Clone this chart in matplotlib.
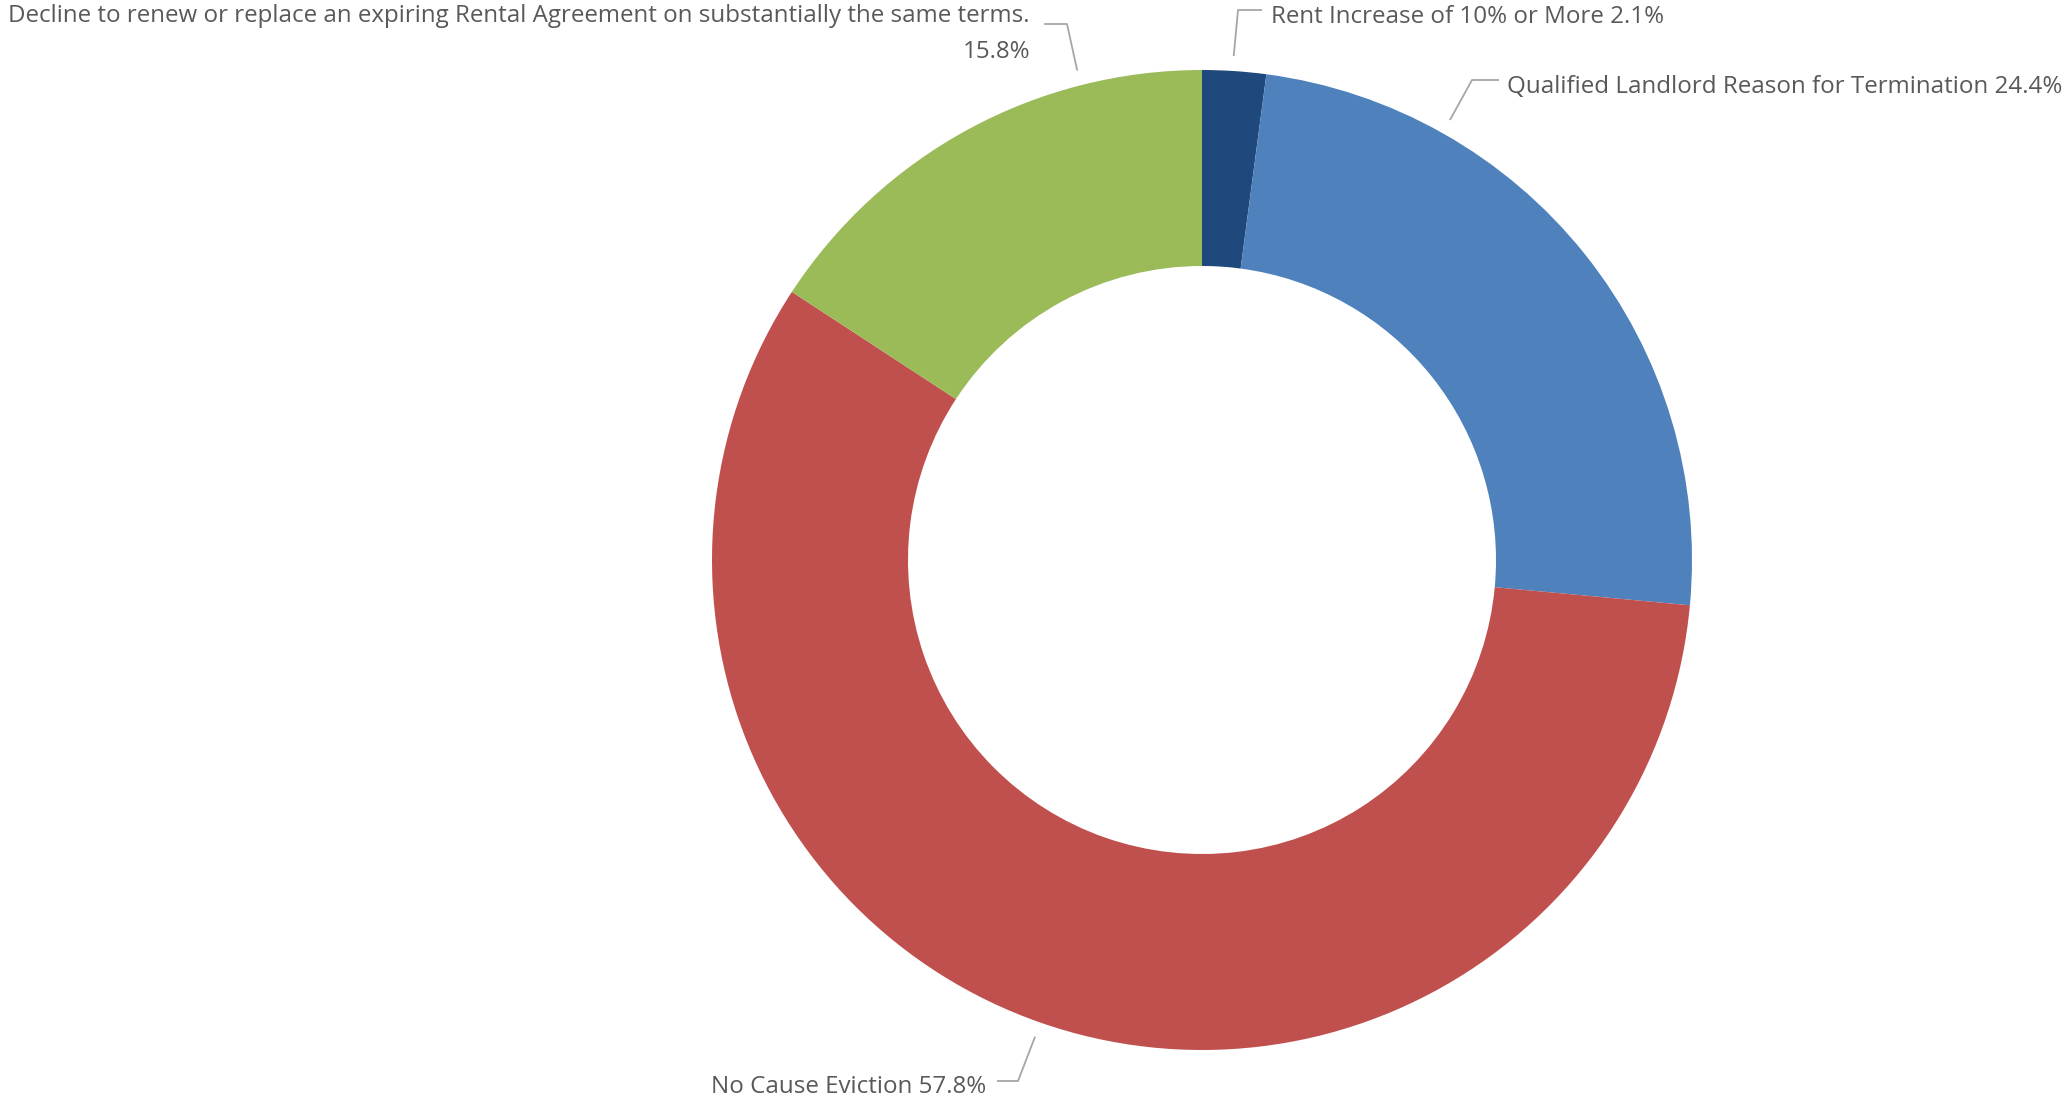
import numpy as np
import matplotlib
matplotlib.use("Agg")
import matplotlib.pyplot as plt

# Share of terminations by reason, clockwise from 12 o'clock
categories = [
    "Rent Increase of 10% or More",
    "Qualified Landlord Reason for Termination",
    "No Cause Eviction",
    "Decline to renew or replace an expiring Rental Agreement on substantially the same terms.",
]
shares = [2.1, 24.4, 57.8, 15.8]
colors = ["#1F497D", "#4F81BD", "#C0504D", "#9BBB59"]

W, H = 2065, 1100
fig = plt.figure(figsize=(W / 100, H / 100), dpi=100)
ax = fig.add_axes([0, 0, 1, 1])
ax.set_xlim(0, W)
ax.set_ylim(0, H)
ax.set_aspect("equal")
ax.axis("off")

cx, cy = 1202, H - 560
r_out = 490
ring = r_out * 0.4

ax.pie(shares, colors=colors, startangle=90, counterclock=False,
       center=(cx, cy), radius=r_out,
       wedgeprops=dict(width=ring, edgecolor="none", linewidth=0))
ax.set_xlim(0, W)
ax.set_ylim(0, H)

text_color = "#595959"
line_color = "#A6A6A6"
fs = 17.4
font = ["Open Sans", "DejaVu Sans"]


def y(v):
    return H - v


def leader(angle_deg, elbow, end):
    a = np.deg2rad(angle_deg)
    sx, sy = cx + 505 * np.cos(a), cy + 505 * np.sin(a)
    ax.plot([sx, elbow[0], end[0]], [sy, y(elbow[1]), y(end[1])],
            color=line_color, lw=1.3, solid_capstyle="butt")


labels = [f"{c} {s:.1f}%" for c, s in zip(categories, shares)]

# Rent increase
leader(86.4, (1238, 10), (1262, 10))
ax.text(1271, y(17), labels[0], ha="left", va="center", fontsize=fs,
        color=text_color, family=font)

# Qualified landlord reason
leader(60.6, (1472, 80), (1499, 80))
ax.text(1507, y(87), labels[1], ha="left", va="center", fontsize=fs,
        color=text_color, family=font)

# No cause eviction
leader(250.7, (1018, 1081), (997, 1081))
ax.text(986, y(1087), labels[2], ha="right", va="center", fontsize=fs,
        color=text_color, family=font)

# Decline to renew (label wraps onto two lines)
leader(104.3, (1067, 24), (1044, 24))
ax.text(1030, y(16), categories[3], ha="right", va="center", fontsize=fs,
        color=text_color, family=font)
ax.text(1030, y(52), f"{shares[3]:.1f}%", ha="right", va="center", fontsize=fs,
        color=text_color, family=font)

fig.savefig("out.png", dpi=100, facecolor="white")
